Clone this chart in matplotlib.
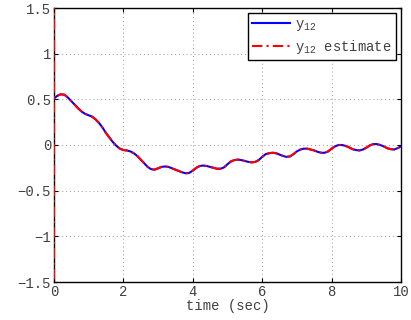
import matplotlib
matplotlib.use("Agg")
import matplotlib.pyplot as plt
import numpy as np

t = [0.0, 0.1, 0.2, 0.3, 0.4, 0.5, 0.6, 0.7, 0.8, 0.9,
     1.0, 1.1, 1.2, 1.3, 1.4, 1.5, 1.6, 1.7, 1.8, 1.9,
     2.0, 2.1, 2.2, 2.3, 2.4, 2.5, 2.6, 2.7, 2.8, 2.9,
     3.0, 3.1, 3.2, 3.3, 3.4, 3.5, 3.6, 3.7, 3.8, 3.9,
     4.0, 4.1, 4.2, 4.3, 4.4, 4.5, 4.6, 4.7, 4.8, 4.9,
     5.0, 5.1, 5.2, 5.3, 5.4, 5.5, 5.6, 5.7, 5.8, 5.9,
     6.0, 6.1, 6.2, 6.3, 6.4, 6.5, 6.6, 6.7, 6.8, 6.9,
     7.0, 7.1, 7.2, 7.3, 7.4, 7.5, 7.6, 7.7, 7.8, 7.9,
     8.0, 8.1, 8.2, 8.3, 8.4, 8.5, 8.6, 8.7, 8.8, 8.9,
     9.0, 9.1, 9.2, 9.3, 9.4, 9.5, 9.6, 9.7, 9.8, 9.9, 10.0]
y12 = [0.51, 0.54, 0.555, 0.55, 0.52, 0.48, 0.44, 0.40, 0.365, 0.34,
       0.325, 0.31, 0.28, 0.24, 0.19, 0.13, 0.08, 0.03, -0.01, -0.04,
       -0.055, -0.06, -0.07, -0.09, -0.12, -0.16, -0.20, -0.24, -0.265, -0.27,
       -0.255, -0.24, -0.235, -0.24, -0.255, -0.27, -0.285, -0.30, -0.31, -0.305,
       -0.28, -0.25, -0.23, -0.225, -0.23, -0.24, -0.25, -0.26, -0.26, -0.245,
       -0.21, -0.18, -0.165, -0.16, -0.165, -0.175, -0.185, -0.19, -0.185, -0.165,
       -0.13, -0.10, -0.09, -0.085, -0.09, -0.105, -0.12, -0.13, -0.125, -0.10,
       -0.07, -0.05, -0.04, -0.04, -0.05, -0.06, -0.075, -0.085, -0.085, -0.07,
       -0.04, -0.015, 0.0, 0.0, -0.01, -0.025, -0.045, -0.055, -0.06, -0.05,
       -0.03, -0.005, 0.01, 0.01, 0.0, -0.015, -0.035, -0.045, -0.05, -0.035, -0.015]

# estimate: initial transient spike at t=0, then tracks y12
est_t0 = [0.0, 0.0]
est_spike = [-3.0, 3.0]

t_est = est_t0 + t
y_est = est_spike + y12

xticks = [0, 2, 4, 6, 8, 10]
yticks = [-1.5, -1, -0.5, 0, 0.5, 1, 1.5]
yticklabels = ["\u22121.5", "\u22121", "\u22120.5", "0", "0.5", "1", "1.5"]

plt.rcParams['font.family'] = ['Liberation Mono', 'DejaVu Sans Mono']
plt.rcParams['mathtext.fontset'] = 'custom'
plt.rcParams['mathtext.rm'] = 'Liberation Mono'
plt.rcParams['mathtext.it'] = 'Liberation Mono'

fig = plt.figure(figsize=(4.11, 3.2), dpi=100)
ax = fig.add_axes([0.1314, 0.11875, 0.8443, 0.85625])

ax.plot(t, y12, color='#0000ff', lw=1.5, label='y$_{12}$', zorder=3)
ax.plot(t_est, y_est, color='#ff0000', lw=1.5, ls='-.', dashes=(5, 2, 1, 2),
        label='y$_{12}$ estimate', zorder=4)

ax.set_xlim(0, 10)
ax.set_ylim(-1.5, 1.5)
ax.set_xticks(xticks)
ax.set_yticks(yticks)
ax.set_yticklabels(yticklabels)
ax.grid(True, color='#999999', lw=0.7, dashes=(1, 3))
ax.tick_params(direction='in', top=True, right=True, labelsize=10,
               labelcolor='#404040', length=3, width=0.8, pad=2)
for s in ax.spines.values():
    s.set_linewidth(1.0)
ax.set_xlabel('time (sec)', fontsize=10, color='#404040', labelpad=0)

leg = ax.legend(loc='upper right', fontsize=10, fancybox=False, framealpha=1,
                edgecolor='black', borderpad=0.3, handlelength=2.7,
                handletextpad=0.4, labelspacing=0.35, borderaxespad=0.35)
leg.get_frame().set_linewidth(1.0)
for txt in leg.get_texts():
    txt.set_color('#404040')

fig.savefig('out.png', dpi=100)
